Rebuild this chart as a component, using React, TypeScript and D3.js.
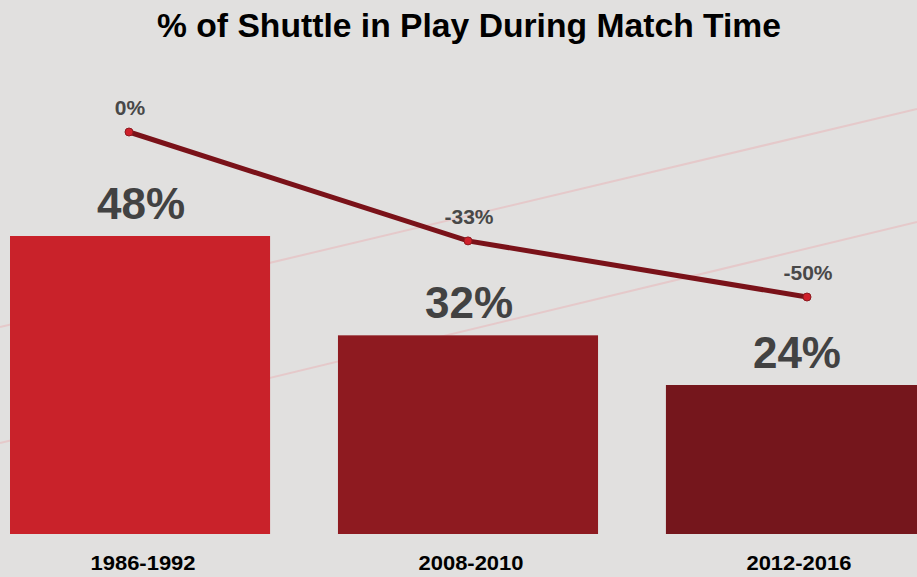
import { useEffect, useRef } from "react";
import * as d3 from "d3";

const periods = ["1986-1992", "2008-2010", "2012-2016"];
const inPlay = [48, 32, 24];
const change = [0, -33, -50];
const barColors = ["#c9222a", "#8e1a20", "#75161c"];

function Chart() {
  const ref = useRef<SVGSVGElement | null>(null);

  useEffect(() => {
    const width = 917;
    const height = 577;
    const svg = d3.select(ref.current);
    svg.selectAll("*").remove();

    svg
      .append("rect")
      .attr("width", width)
      .attr("height", height)
      .attr("fill", "#e1e0df");

    // faint decorative diagonals
    const deco = [
      [327, 109],
      [443, 222],
    ];
    deco.forEach((d) => {
      svg
        .append("line")
        .attr("x1", 0)
        .attr("y1", d[0])
        .attr("x2", width)
        .attr("y2", d[1])
        .attr("stroke", "#e5c9ca")
        .attr("stroke-width", 2);
    });

    const x = d3.scaleBand<string>().domain(periods).range([10, 926]).paddingInner(0.207).paddingOuter(0);
    const y = d3.scaleLinear().domain([0, 48]).range([534, 236]);
    const xLine = d3.scalePoint<string>().domain(periods).range([129, 807]);
    const yLine = d3.scaleLinear().domain([-50, 0]).range([297, 132]);

    svg
      .append("text")
      .attr("x", 469)
      .attr("y", 37)
      .attr("text-anchor", "middle")
      .attr("font-family", "'Liberation Sans Narrow', 'Liberation Sans', Arial, sans-serif")
      .attr("font-weight", "bold")
      .attr("font-size", 33)
      .attr("textLength", 624)
      .attr("lengthAdjust", "spacingAndGlyphs")
      .attr("fill", "#000")
      .text("% of Shuttle in Play During Match Time");

    svg
      .selectAll("rect.bar")
      .data(inPlay)
      .join("rect")
      .attr("class", "bar")
      .attr("x", (_, i) => x(periods[i]) as number)
      .attr("y", (d) => y(d))
      .attr("width", x.bandwidth())
      .attr("height", (d) => y(0) - y(d))
      .attr("fill", (_, i) => barColors[i]);

    svg
      .selectAll("text.val")
      .data(inPlay)
      .join("text")
      .attr("class", "val")
      .attr("x", (_, i) => (x(periods[i]) as number) + x.bandwidth() / 2 + 1)
      .attr("y", (d) => y(d) - 17)
      .attr("text-anchor", "middle")
      .attr("font-family", "'Liberation Sans', Arial, sans-serif")
      .attr("font-weight", "bold")
      .attr("font-size", 44)
      .attr("fill", "#424242")
      .text((d) => `${d}%`);

    svg
      .selectAll("text.cat")
      .data(periods)
      .join("text")
      .attr("class", "cat")
      .attr("x", (d) => (x(d) as number) + x.bandwidth() / 2 + 3)
      .attr("y", 570)
      .attr("text-anchor", "middle")
      .attr("font-family", "'Liberation Sans Narrow', 'Liberation Sans', Arial, sans-serif")
      .attr("font-weight", "bold")
      .attr("font-size", 21)
      .attr("textLength", 105)
      .attr("lengthAdjust", "spacingAndGlyphs")
      .attr("fill", "#000")
      .text((d) => d);

    const line = d3
      .line<number>()
      .x((_, i) => xLine(periods[i]) as number)
      .y((d) => yLine(d));

    svg
      .append("path")
      .datum(change)
      .attr("d", line)
      .attr("fill", "none")
      .attr("stroke", "#7a1219")
      .attr("stroke-width", 5);

    svg
      .selectAll("circle.pt")
      .data(change)
      .join("circle")
      .attr("class", "pt")
      .attr("cx", (_, i) => xLine(periods[i]) as number)
      .attr("cy", (d) => yLine(d))
      .attr("r", 4)
      .attr("fill", "#cf202b")
      .attr("stroke", "#8e1a20")
      .attr("stroke-width", 1);

    svg
      .selectAll("text.chg")
      .data(change)
      .join("text")
      .attr("class", "chg")
      .attr("x", (_, i) => (xLine(periods[i]) as number) + 1)
      .attr("y", (d) => yLine(d) - 17)
      .attr("text-anchor", "middle")
      .attr("font-family", "'Liberation Sans', Arial, sans-serif")
      .attr("font-weight", "bold")
      .attr("font-size", 21)
      .attr("fill", "#484848")
      .text((d) => `${d}%`);
  }, []);

  return <svg ref={ref} width={917} height={577} style={{ display: "block" }} />;
}

export default function App() {
  return (
    <div style={{ position: "absolute", left: 0, top: 0 }}>
      <Chart />
    </div>
  );
}
